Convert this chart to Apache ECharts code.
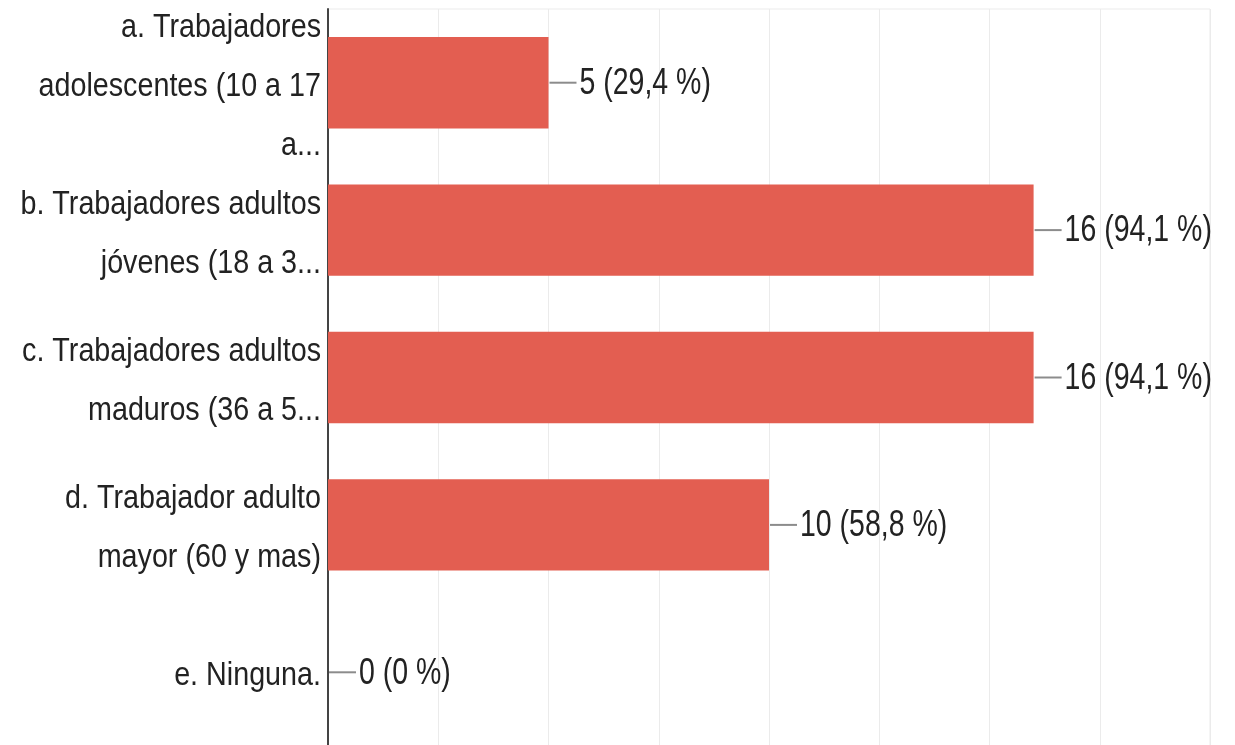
<!DOCTYPE html>
<html>
<head>
<meta charset="utf-8">
<script src="https://cdn.jsdelivr.net/npm/echarts@6/dist/echarts.min.js"></script>
<style>
html,body{margin:0;padding:0;background:#fff;}
#chart{width:1235px;height:745px;}
</style>
</head>
<body>
<div id="chart"></div>
<script>
const categories = [
  "a. Trabajadores\nadolescentes (10 a 17\na...",
  "b. Trabajadores adultos\njóvenes (18 a 3...",
  "c. Trabajadores adultos\nmaduros (36 a 5...",
  "d. Trabajador adulto\nmayor (60 y mas)",
  "e. Ninguna."
];
const counts = [5, 16, 16, 10, 0];
const percents = ["29,4", "94,1", "94,1", "58,8", "0"];
const xTicks = [0, 2.5, 5, 7.5, 10, 12.5, 15, 17.5, 20];

const FONT = '"Liberation Sans", Arial, sans-serif';
const chart = echarts.init(document.getElementById('chart'));
chart.setOption({
  animation: false,
  grid: {left: 328, right: 25, top: 9, bottom: -1, outerBoundsMode: 'none', containLabel: false,
         show: true, borderColor: '#ebebeb', borderWidth: 1, backgroundColor: '#fff'},
  xAxis: {
    type: 'value', min: xTicks[0], max: xTicks[xTicks.length - 1], interval: 2.5,
    axisLabel: {show: false}, axisLine: {show: false}, axisTick: {show: false},
    splitLine: {lineStyle: {color: '#ebebeb', width: 1}}
  },
  yAxis: {
    type: 'category', inverse: true, data: categories,
    axisLine: {show: true, lineStyle: {color: '#444', width: 2}},
    axisTick: {show: false},
    axisLabel: {show: false}
  },
  series: [
    {
      type: 'bar', data: counts, barWidth: '62%',
      itemStyle: {color: '#e35e51'}, z: 2
    },
    {
      // category labels (horizontally condensed like the reference)
      type: 'custom', z: 4, clip: false, silent: true,
      data: categories.map((c, i) => [0, i]),
      encode: {x: 0, y: 1},
      renderItem: function (params, api) {
        const idx = params.dataIndex;
        const p = api.coord([0, api.value(1)]);
        return {
          type: 'text', x: p[0] - 7, y: p[1] + 4, scaleX: 0.87,
          style: {text: categories[idx], fill: '#222', font: '33px ' + FONT, lineHeight: 59,
                  align: 'right', verticalAlign: 'middle'}
        };
      }
    },
    {
      // value labels with leader lines
      type: 'custom', z: 3, clip: false, silent: true,
      data: counts.map((v, i) => [v, i]),
      encode: {x: 0, y: 1},
      renderItem: function (params, api) {
        const idx = params.dataIndex;
        const p = api.coord([api.value(0), api.value(1)]);
        return {
          type: 'group',
          children: [
            {type: 'line', shape: {x1: p[0] + 1, y1: p[1], x2: p[0] + 28, y2: p[1]}, style: {stroke: '#8c8c8c', lineWidth: 2}},
            {type: 'text', x: p[0] + 31, y: p[1] + 1, scaleX: 0.77,
             style: {text: counts[idx] + ' (' + percents[idx] + ' %)', fill: '#222', font: '37px ' + FONT, align: 'left', verticalAlign: 'middle'}}
          ]
        };
      }
    }
  ]
});
</script>
</body>
</html>
